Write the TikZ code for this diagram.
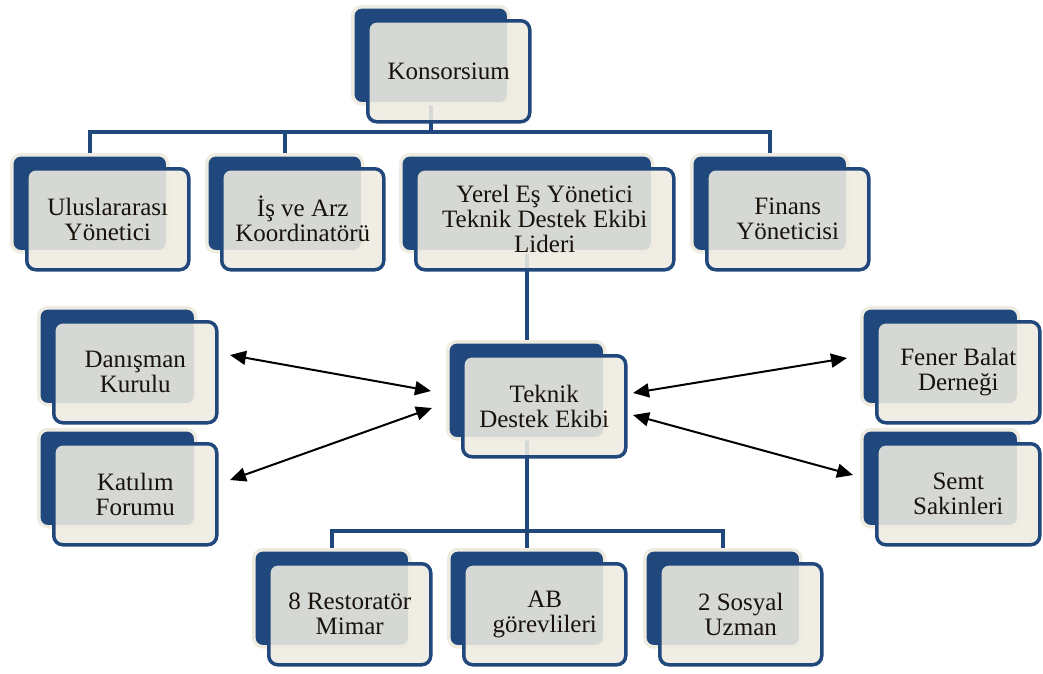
\documentclass[tikz,border=0pt]{standalone}
\usepackage{fontspec}
\setmainfont{Liberation Serif}
\usetikzlibrary{arrows.meta}
\definecolor{navy}{RGB}{33,72,124}
\definecolor{cream}{RGB}{238,236,225}
\definecolor{ink}{RGB}{25,18,12}
\pgfdeclarelayer{background}
\pgfsetlayers{background,main}

\tikzset{
  backbox/.style={draw=cream, line width=3.5pt, fill=navy, rounded corners=9pt,
    anchor=north west, inner sep=0pt, minimum height=97pt},
  frontbox/.style={draw=navy, line width=3.5pt, fill=cream, fill opacity=0.88,
    text opacity=1, text=ink, rounded corners=9pt, anchor=north west,
    inner sep=0pt, minimum height=101pt, align=center,
    font=\fontsize{25}{25}\selectfont},
  link/.style={draw=navy, line width=4pt},
  twoway/.style={draw=black, line width=2pt,
    {Triangle[length=16pt,width=14pt]}-{Triangle[length=16pt,width=14pt]}},
}

% a unit: dark tab behind, light card in front (name, x, y, width, text)
\newcommand\orgbox[5]{%
  \node[backbox, minimum width=#4pt] (#1-b) at (#2,#3) {};
  \node[frontbox, minimum width=#4pt+6pt] (#1) at (#2+15,#3+14) {#5};
}

\begin{document}
\begin{tikzpicture}[x=1pt,y=-1pt]
  \useasboundingbox (0,0) rectangle (1043,673);

  % top level
  \orgbox{ko}{351}{5}{156}{Konsorsium}
  % second level
  \orgbox{ul}{10}{153}{156}{Uluslararası\\Yönetici}
  \orgbox{is}{205}{153}{156}{İş ve Arz\\Koordinatörü}
  \orgbox{ye}{399}{153}{252}{Yerel Eş Yönetici\\Teknik Destek Ekibi\\Lideri}
  \orgbox{fi}{690}{153}{156}{Finans\\Yöneticisi}
  % technical team and its partners
  \orgbox{te}{446}{340}{157}{Teknik\\Destek Ekibi}
  \orgbox{da}{37}{306}{157}{Danışman\\Kurulu}
  \orgbox{ka}{37}{428}{157}{Katılım\\Forumu}
  \orgbox{fe}{860}{306}{157}{Fener Balat\\Derneği}
  \orgbox{se}{860}{428}{157}{Semt\\Sakinleri}
  % team members
  \orgbox{re}{252}{548}{156}{8 Restoratör\\Mimar}
  \orgbox{ab}{447}{548}{156}{AB\\görevlileri}
  \orgbox{so}{643}{548}{156}{2 Sosyal\\Uzman}

  \coordinate (bus1) at (0,132);
  \coordinate (bus2) at (0,531);

  % white page and tree links, kept behind the cards
  \begin{pgfonlayer}{background}
    \fill[white] (0,0) rectangle (1043,673);
    \draw[link] (ko-b.center) -- (ko-b.center |- bus1);
    \draw[link] (ul-b.center) -- (ul-b.center |- bus1)
                -- (fi-b.center |- bus1) -- (fi-b.center);
    \draw[link] (is-b.center) -- (is-b.center |- bus1);
    \draw[link] (ye-b.center) -- (ye-b.center |- bus2);
    \draw[link] (re-b.center) -- (re-b.center |- bus2)
                -- (so-b.center |- bus2) -- (so-b.center);
    \draw[link] (ab-b.center) -- (ab-b.center |- bus2);
  \end{pgfonlayer}

  % two-way relations of the technical team
  \coordinate (da-end) at (230,355);
  \coordinate (te-l1) at (431,391);
  \coordinate (ka-end) at (230,480);
  \coordinate (te-l2) at (432,408);
  \coordinate (fe-end) at (847,358);
  \coordinate (te-r1) at (633,393);
  \coordinate (se-end) at (853,475);
  \coordinate (te-r2) at (633,415);
  \draw[twoway] (da-end) -- (te-l1);
  \draw[twoway] (ka-end) -- (te-l2);
  \draw[twoway] (te-r1) -- (fe-end);
  \draw[twoway] (te-r2) -- (se-end);
\end{tikzpicture}
\end{document}
